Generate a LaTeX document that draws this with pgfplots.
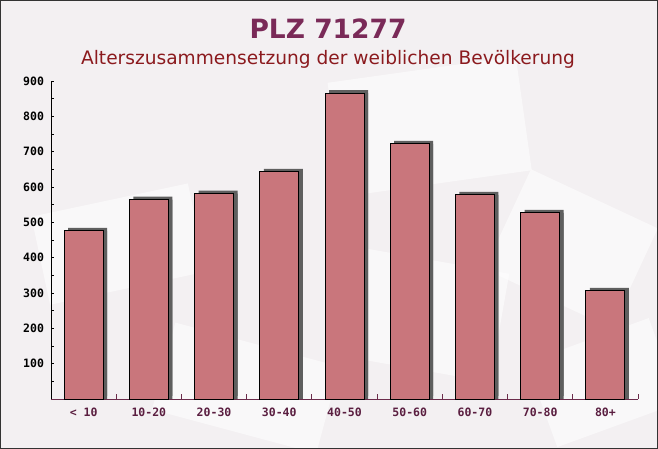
\documentclass[border=0pt]{standalone}
\usepackage{fontspec}
\setmainfont{DejaVu Sans}
\setmonofont{DejaVu Sans Mono}
\usepackage{pgfplots}
\pgfplotsset{compat=1.18}
\definecolor{bgc}{RGB}{243,240,242}
\definecolor{barc}{RGB}{201,118,124}
\definecolor{shadowc}{RGB}{95,95,95}
\definecolor{titlec}{RGB}{122,42,88}
\definecolor{subc}{RGB}{139,26,30}
\definecolor{xlabc}{RGB}{90,30,64}
\definecolor{xaxc}{RGB}{107,43,75}
\begin{document}
\begin{tikzpicture}
\useasboundingbox (0,0) rectangle (658bp,449bp);
\fill[bgc] (0,0) rectangle (658bp,449bp);
% faint envelope-like background shapes
\begin{scope}[fill=white, opacity=0.55]
\fill[rotate around={8:(430bp,320bp)}] (335bp,265bp) rectangle (525bp,380bp);
\fill[rotate around={-25:(560bp,200bp)}] (500bp,150bp) rectangle (640bp,260bp);
\fill[rotate around={12:(120bp,200bp)}] (40bp,160bp) rectangle (200bp,250bp);
\fill[rotate around={-15:(230bp,60bp)}] (160bp,20bp) rectangle (330bp,110bp);
\fill[rotate around={20:(600bp,60bp)}] (540bp,20bp) rectangle (670bp,110bp);
\fill[rotate around={-10:(420bp,130bp)}] (350bp,80bp) rectangle (500bp,190bp);
\end{scope}
\draw[black!80, line width=1bp] (0.5bp,0.5bp) rectangle (657.5bp,448.5bp);
\node[anchor=base, text=titlec, font=\fontsize{26.5bp}{30bp}\selectfont\bfseries] at (328bp,410bp) {PLZ 71277};
\node[anchor=base, text=subc, font=\fontsize{18.6bp}{22bp}\selectfont] at (328bp,384bp) {Alterszusammensetzung der weiblichen Bevölkerung};
\begin{axis}[
  at={(51bp,50bp)}, anchor=south west,
  scale only axis, width=587bp, height=318bp,
  xmin=-0.5, xmax=8.5, ymin=0, ymax=900,
  axis x line*=bottom, axis y line*=left,
  x axis line style={draw=xaxc, line width=0.9bp, -},
  y axis line style={draw=black, line width=0.9bp, -},
  xtick={0,...,8},
  xticklabels={\textless{} 10,10-20,20-30,30-40,40-50,50-60,60-70,70-80,80+},
  major x tick style={draw=none},
  minor xtick={-0.5,0.5,...,8.5},
  minor x tick style={draw=xaxc, line width=0.8bp},
  minor tick length=5bp,
  ytick={50,100,...,900},
  yticklabels={,100,,200,,300,,400,,500,,600,,700,,800,,900},
  major tick length=3bp,
  major y tick style={draw=black, line width=0.8bp},
  tick align=inside,
  xticklabel style={text=xlabc, font=\fontsize{11.5bp}{13bp}\selectfont\ttfamily\bfseries, yshift=-5bp},
  yticklabel style={text=black, font=\fontsize{11.5bp}{13bp}\selectfont\ttfamily\bfseries, xshift=-3.5bp},
  clip=false,
]
\addplot[ybar, bar width=39bp, fill=barc, draw=black, line width=0.9bp,
  preaction={fill=shadowc, draw=none, transform canvas={xshift=4bp,yshift=3bp}},
  preaction={fill=shadowc, draw=none, transform canvas={xshift=4bp}}]
  coordinates {(0,476) (1,564) (2,581) (3,643) (4,866) (5,722) (6,578) (7,527) (8,306)};
\end{axis}
\end{tikzpicture}
\end{document}
